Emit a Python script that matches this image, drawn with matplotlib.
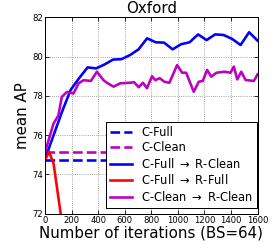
import matplotlib
matplotlib.use("Agg")
import matplotlib.pyplot as plt

title = "Oxford"
xlabel = "Number of iterations (BS=64)"
ylabel = "mean AP"

c_full = 74.75
c_clean = 75.15

blue_x = [0, 64, 128, 192, 256, 320, 384, 448, 512, 576, 640, 704, 768, 832, 896,
          960, 1024, 1088, 1152, 1216, 1280, 1344, 1408, 1472, 1536, 1600]
blue_y = [74.8, 76.0, 77.2, 78.3, 78.9, 79.45, 79.4, 79.6, 79.85, 79.87, 80.08, 80.37,
          80.93, 80.73, 80.71, 80.37, 80.63, 80.73, 81.13, 80.84, 81.13, 81.1, 80.9,
          80.59, 81.24, 80.81]

mag_x = [0, 64, 100, 126, 164, 214, 252, 290, 345, 390, 440, 465, 516, 566, 641, 670,
         705, 737, 767, 805, 830, 863, 898, 936, 994, 1032, 1062, 1119, 1157, 1187,
         1220, 1251, 1291, 1351, 1396, 1421, 1447, 1477, 1509, 1572, 1600]
mag_y = [75.15, 76.6, 77.0, 77.95, 78.2, 78.12, 78.64, 78.8, 78.76, 79.23, 78.8, 78.67,
         78.47, 78.64, 78.67, 78.7, 78.44, 78.67, 78.39, 79.0, 78.8, 78.9, 78.72, 78.67,
         79.57, 79.18, 79.18, 78.21, 78.72, 78.76, 79.32, 78.98, 79.18, 79.23, 79.18,
         79.49, 78.84, 79.23, 78.81, 78.76, 79.1]

red_x = [0, 30, 64, 128, 192]
red_y = [74.75, 75.15, 74.55, 71.5, 69.0]

labels = ["C-Full", "C-Clean", r"C-Full $\rightarrow$ R-Clean",
          r"C-Full $\rightarrow$ R-Full", r"C-Clean $\rightarrow$ R-Clean"]

fig = plt.figure(figsize=(280 / 72, 249 / 72), dpi=72)
ax = fig.add_axes([0.161, 0.1414, 0.759, 0.7891])

xmin, xmax = 0, 1600
lw = 2.6
ax.plot([xmin, xmax], [c_full, c_full], color="b", ls="--", lw=lw, label=labels[0])
ax.plot([xmin, xmax], [c_clean, c_clean], color="m", ls="--", lw=lw, label=labels[1])
ax.plot(blue_x, blue_y, color="b", lw=lw, label=labels[2])
ax.plot(red_x, red_y, color="r", lw=lw, label=labels[3])
ax.plot(mag_x, mag_y, color="m", lw=lw, label=labels[4])

ax.set_xlim(xmin, xmax)
ax.set_ylim(72, 82)
ax.set_xticks(range(0, 1601, 200))
ax.set_yticks(range(72, 83, 2))
ax.tick_params(direction="in", top=True, right=True, labelsize=8.5, length=4, pad=2)
ax.grid(True, color="0.5", ls=":", lw=0.8)
for s in ax.spines.values():
    s.set_linewidth(1.0)

ax.set_title(title, fontsize=15, pad=4)
ax.set_xlabel(xlabel, fontsize=15, labelpad=1)
ax.set_ylabel(ylabel, fontsize=15, labelpad=2)

leg = ax.legend(loc="lower right", bbox_to_anchor=(0.998, 0.03), fontsize=11.5,
                fancybox=False, framealpha=1, edgecolor="k", handlelength=1.9,
                handletextpad=0.8, labelspacing=0.22, borderaxespad=0.0, borderpad=0.35)
leg.get_frame().set_linewidth(1.0)

fig.savefig("out.png", dpi=72)
